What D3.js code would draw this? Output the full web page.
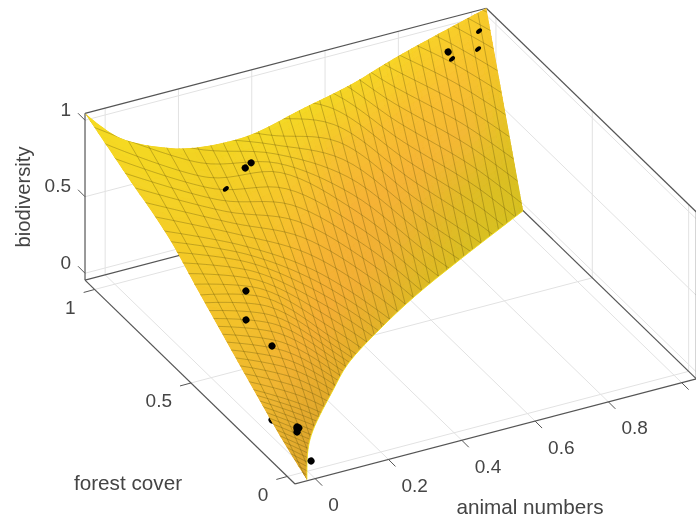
<!DOCTYPE html>
<html>
<head>
<meta charset="utf-8">
<script src="https://cdn.jsdelivr.net/npm/d3@7"></script>
<style>
  html, body { margin: 0; padding: 0; background: #fff; overflow: hidden; }
  text { font-family: "Liberation Sans", Arial, sans-serif; fill: #444; }
</style>
</head>
<body>
<svg id="chart" width="696" height="522"></svg>
<script>
// axis limits of the box and tick labels
var xLim = [-0.055, 1.04];
var yLim = [-0.04, 1.05];
var zLim = [-0.045, 1.045];
var xTicks = [0, 0.2, 0.4, 0.6, 0.8, 1];
var yTicks = [0, 0.5, 1];
var zTicks = [0, 0.5, 1];

// where the surface leaves the box through its lid
var topAnimal = [-0.055, -0.034, 0.051, 0.1175, 0.2515, 0.414, 0.577, 0.751, 1.04];
var topForest = [1.05, 0.907, 0.81, 0.781, 0.777, 0.827, 0.877, 0.948, 1.05];
// where the surface leaves the box through its floor
var botAnimal = [-0.02, 0.048, 0.103, 0.235, 0.324, 0.475, 0.619, 0.789, 1.04];
var botForest = [-0.035, 0.089, 0.167, 0.314, 0.407, 0.522, 0.619, 0.719, 0.859];
// left rim of the surface
var rimForest = [-0.035, 0.032, 0.219, 0.463, 0.634, 0.8625, 1.05];
var rimBio = [-0.045, 0.144, 0.327, 0.578, 0.755, 0.901, 1.045];
var rimAnimal = [-0.02, -0.05, -0.05, -0.05, -0.05, -0.05, -0.055];

// mesh: columns of constant animal numbers and the cross curves over them
var meshAnimal = [-0.055, 0.1, 0.3, 0.5, 0.7, 0.9, 1.04];
var meshSag = [0.02, 0.05, 0.01, 0, 0, 0, 0];
var curveIndex = [0, 3, 14, 18, 24, 30, 42, 60];
// share of the way from lid to floor, per cross curve and column
var curveLevels = [
  [-0.5, -0.8, -0.95, -0.85, -0.6, -0.3, -0.07],
  [-0.4, -0.6, -0.75, -0.65, -0.35, -0.05, 0.2],
  [-0.09, -0.1, 0.03, 0.2, 0.63, 1.05, 1.4],
  [0.078, 0.106, 0.185, 0.51, 0.97, 1.4, 1.75],
  [0.305, 0.346, 0.584, 0.97, 1.45, 1.9, 2.2],
  [0.477, 0.53, 0.87, 1.3, 1.8, 2.2, 2.5],
  [0.72, 0.91, 1.27, 1.72, 2.2, 2.6, 2.9],
  [0.98, 1.3, 1.65, 2.1, 2.6, 3, 3.3]
];

// black sample points
var dotAnimal = [0.268, 0.282, 0.231, 0.9, 0.903, 1.006, 0.998, 0.099, 0.052, 0.084, 0.026, 0.028, 0.015, 0.022, 0.015, -0.029];
var dotForest = [0.833, 0.829, 0.863, 0.982, 0.9675, 1.023, 1.013, 0.508, 0.418, 0.344, 0.104, 0.098, 0.083, 0.096, 0.01, 0.129];
var dotBio = [0.75, 0.78, 0.6, 0.93, 0.9, 0.95, 0.85, 0.45, 0.4, 0.3, 0.1, 0.1, 0.1, 0.1, 0, 0.15];
var dotSunk = [0, 0, 1, 0, 1, 1, 1, 0, 0, 0, 0, 0, 0, 0, 0, 0];
var dotBehind = [0, 0, 0, 0, 0, 0, 0, 0, 0, 0, 0, 0, 0, 0, 0, 1];

// colours
var tintLevels = [0, 0.25, 0.5, 0.75, 1];
var tintRows = [
  ["#f5dc22", "#f2d422", "#f4d925", "#f4d725", "#f7d528", "#f8d02a", "#f8cb2c"],
  ["#f4d026", "#f4c92a", "#f6c82c", "#f6c030", "#f7c030", "#f9c032", "#f5c62a"],
  ["#f3c42a", "#f5c02c", "#f6b832", "#f6b236", "#f6b436", "#f3b934", "#e9c428"],
  ["#eeb830", "#f2b232", "#f4ae34", "#f1b034", "#e8b62e", "#dfbc26", "#dcc024"],
  ["#dca62c", "#dea62c", "#e4ae2a", "#e2b42a", "#dcbc24", "#d8c022", "#d6c021"]
];

var svg = d3.select("#chart");
var defs = svg.append("defs");
defs.append("filter").attr("id", "soft")
    .append("feGaussianBlur").attr("stdDeviation", 0.45);
var root = svg.append("g").attr("filter", "url(#soft)");

// oblique view: each data axis moves the pixel along its own direction
var xToPx = d3.scaleLinear().domain([0, 1]).range([0, 366.5]);
var xToPy = d3.scaleLinear().domain([0, 1]).range([0, -96]);
var yToPx = d3.scaleLinear().domain([0, 1]).range([0, -192.7]);
var yToPy = d3.scaleLinear().domain([0, 1]).range([0, -187]);
var zToPy = d3.scaleLinear().domain([0, 1]).range([0, -153]);

function project(x, y, z) {
    return [307.5 + xToPx(x) + yToPx(y), 464.3 + xToPy(x) + yToPy(y) + zToPy(z)];
}

var forestHi = d3.scaleLinear().domain(topAnimal).range(topForest);
var forestLo = d3.scaleLinear().domain(botAnimal).range(botForest);
var sagAt = d3.scaleLinear().domain(meshAnimal).range(meshSag);

// point on a mesh column, f = 0 on the lid contour and f = 1 on the floor contour
function surfacePoint(x, f) {
    var hi = forestHi(x), lo = forestLo(x);
    var s = sagAt(x) * Math.max(0, 4 * f * (1 - f));
    var y = hi + (lo - hi) * f - s;
    var z = zLim[1] + (zLim[0] - zLim[1]) * f + s * 1.22;
    return project(x, y, z);
}

var lineStraight = d3.line();
var lineSmooth = d3.line().curve(d3.curveCatmullRom);

function seg(a, b, color, width) {
    root.append("path").attr("d", lineStraight([a, b]))
        .attr("stroke", color).attr("stroke-width", width).attr("fill", "none");
}

// light grid on floor and back walls
var gridColor = "#e2e2e2";
xTicks.forEach(function(t) {
    seg(project(t, yLim[0], zLim[0]), project(t, yLim[1], zLim[0]), gridColor, 1);
    seg(project(t, yLim[1], zLim[0]), project(t, yLim[1], zLim[1]), gridColor, 1);
});
yTicks.forEach(function(t) {
    seg(project(xLim[0], t, zLim[0]), project(xLim[1], t, zLim[0]), gridColor, 1);
    seg(project(xLim[1], t, zLim[0]), project(xLim[1], t, zLim[1]), gridColor, 1);
});
zTicks.forEach(function(t) {
    seg(project(xLim[0], yLim[1], t), project(xLim[1], yLim[1], t), gridColor, 1);
    seg(project(xLim[1], yLim[1], t), project(xLim[1], yLim[0], t), gridColor, 1);
});

// box edges
var boxColor = "#555";
seg(project(xLim[0], yLim[1], zLim[0]), project(xLim[1], yLim[1], zLim[0]), boxColor, 1.2);
seg(project(xLim[1], yLim[1], zLim[0]), project(xLim[1], yLim[0], zLim[0]), boxColor, 1.2);
seg(project(xLim[0], yLim[1], zLim[0]), project(xLim[0], yLim[1], zLim[1]), boxColor, 1.2);
seg(project(xLim[0], yLim[1], zLim[1]), project(xLim[1], yLim[1], zLim[1]), boxColor, 1.2);
seg(project(xLim[1], yLim[1], zLim[1]), project(xLim[1], yLim[0], zLim[1]), boxColor, 1.2);
seg(project(xLim[1], yLim[0], zLim[0]), project(xLim[1], yLim[0], zLim[1]), boxColor, 1.2);

function drawDots(flag) {
    dotAnimal.forEach(function(x, i) {
        if (dotBehind[i] !== flag) return;
        var p = project(x, dotForest[i], dotBio[i]);
        root.append("ellipse")
            .attr("transform", "translate(" + p[0] + "," + p[1] + ") rotate(-40)")
            .attr("rx", dotSunk[i] ? 3.4 : 3.5)
            .attr("ry", dotSunk[i] ? 2.1 : 3.5)
            .attr("fill", "#000");
    });
}
drawDots(1);

// outline of the surface, built from its four rims
var lidPts = topAnimal.map(function(x, i) { return project(x, topForest[i], zLim[1]); });
var floorPts = botAnimal.map(function(x, i) { return project(x, botForest[i], zLim[0]); }).reverse();
var rimPts = rimAnimal.map(function(x, i) { return project(x, rimForest[i], rimBio[i]); });
var outline = lineSmooth(lidPts) + lineSmooth(floorPts).replace("M", "L") + lineSmooth(rimPts).replace("M", "L") + "Z";

defs.append("clipPath").attr("id", "surfaceClip").append("path").attr("d", outline);
var surface = root.append("g").attr("clip-path", "url(#surfaceClip)");
surface.append("path").attr("d", outline).attr("fill", "#f3c22c");

// colour patches
var tintScales = tintRows.map(function(row) {
    return d3.scaleLinear().domain(meshAnimal).range(row).clamp(true);
});
function tintAt(x, f) {
    return d3.scaleLinear().domain(tintLevels)
        .range(tintScales.map(function(s) { return s(x); })).clamp(true)(f);
}
var cellX = d3.range(-0.08, 1.08, 0.03);
var cellF = d3.range(-0.1, 1.12, 0.03);
cellX.forEach(function(x) {
    cellF.forEach(function(f) {
        var c = tintAt(x + 0.015, f + 0.015);
        surface.append("path")
            .attr("d", lineStraight([surfacePoint(x, f), surfacePoint(x + 0.03, f), surfacePoint(x + 0.03, f + 0.03), surfacePoint(x, f + 0.03)]) + "Z")
            .attr("fill", c).attr("stroke", c).attr("stroke-width", 0.8);
    });
});

// mesh
var meshColor = "rgba(100,85,15,0.5)";
d3.range(meshAnimal[0], 1.05, 1 / 30).forEach(function(x) {
    var pts = d3.range(-0.25, 1.26, 0.05).map(function(f) { return surfacePoint(x, f); });
    surface.append("path").attr("d", lineSmooth(pts))
        .attr("fill", "none").attr("stroke", meshColor).attr("stroke-width", 0.7);
});
var levelAt = meshAnimal.map(function(x, j) {
    return d3.scaleLinear().domain(curveIndex).range(curveLevels.map(function(r) { return r[j]; }));
});
d3.range(0, 61).forEach(function(k) {
    var pts = meshAnimal.map(function(x, j) { return surfacePoint(x, levelAt[j](k)); });
    surface.append("path").attr("d", lineSmooth(pts))
        .attr("fill", "none").attr("stroke", meshColor).attr("stroke-width", 0.7);
});

// bright rim along the floor contour
root.append("path").attr("d", lineSmooth(floorPts))
    .attr("fill", "none").attr("stroke", "#efdc20").attr("stroke-width", 0.9);

drawDots(0);

// front axes with ticks
seg(project(xLim[0], yLim[0], zLim[0]), project(xLim[1], yLim[0], zLim[0]), boxColor, 1.2);
seg(project(xLim[0], yLim[0], zLim[0]), project(xLim[0], yLim[1], zLim[0]), boxColor, 1.2);

function label(p, txt, anchor, size) {
    return root.append("text").attr("x", p[0]).attr("y", p[1])
        .attr("text-anchor", anchor).attr("dominant-baseline", "central")
        .attr("font-size", size).text(txt);
}
xTicks.forEach(function(t) {
    var p = project(t, yLim[0], zLim[0]);
    seg(p, [p[0] + 7, p[1] + 7], boxColor, 1);
    label([p[0] + 13, p[1] + 26], String(t), "start", 19);
});
yTicks.forEach(function(t) {
    var p = project(xLim[0], t, zLim[0]);
    seg(p, [p[0] - 11, p[1] + 3], boxColor, 1);
    label([p[0] - 19, p[1] + 18], String(t), "end", 19);
});
zTicks.forEach(function(t) {
    var p = project(xLim[0], yLim[1], t);
    seg(p, [p[0] - 7, p[1] - 7], boxColor, 1);
    label([p[0] - 14, p[1] - 11], String(t), "end", 19);
});

label([530, 506], "animal numbers", "middle", 20.7);
label([128, 482], "forest cover", "middle", 20.7);
label([0, 0], "biodiversity", "middle", 20.2).attr("transform", "translate(23,197) rotate(-90)");
</script>
</body>
</html>
